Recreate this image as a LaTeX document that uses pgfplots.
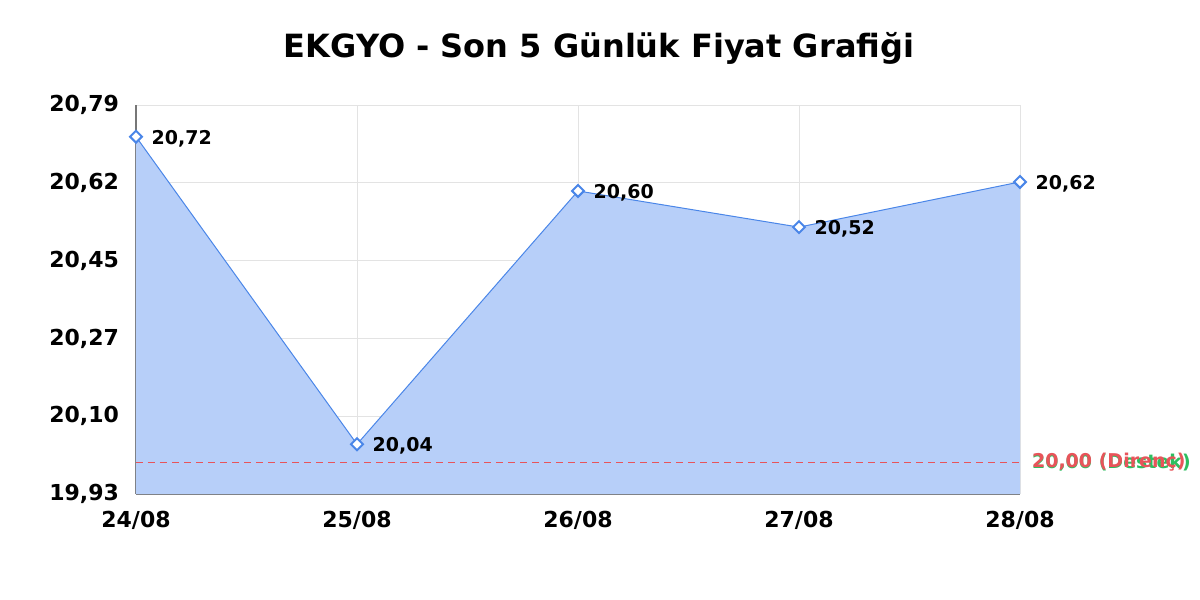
\documentclass[border=0pt]{standalone}
\usepackage{fontspec}
\setmainfont{DejaVu Sans}
\usepackage{pgfplots}
\pgfplotsset{compat=1.18}

\definecolor{lineblue}{HTML}{4A86E8}
\definecolor{fillblue}{HTML}{B7CFF9}
\definecolor{resred}{HTML}{E8545A}
\definecolor{supgreen}{HTML}{2DBE60}
\definecolor{gridgray}{HTML}{E3E3E3}
\definecolor{axisgray}{HTML}{777777}

\begin{document}
\begin{tikzpicture}[x=0.5pt,y=0.5pt]
% 1200x600 px page, 1px = 0.5pt, origin at the axis' lower left corner
\useasboundingbox (-136,-106) rectangle (1064,494);
\node[font=\bfseries\fontsize{16}{18}\selectfont] at (463,446) {EKGYO - Son 5 Günlük Fiyat Grafiği};
\begin{axis}[
    at={(0,0)}, anchor=south west,
    scale only axis,
    width=442pt, height=194.5pt,
    xmin=0, xmax=4,
    ymin=19.93, ymax=20.79,
    xtick={0,1,2,3,4},
    xticklabels={24/08,25/08,26/08,27/08,28/08},
    ytick={19.93,20.102,20.274,20.446,20.618,20.79},
    yticklabels={{19,93},{20,10},{20,27},{20,45},{20,62},{20,79}},
    tick label style={font=\bfseries\fontsize{11}{13}\selectfont},
    xticklabel style={yshift=-5pt},
    yticklabel style={xshift=-5pt},
    major tick length=0pt,
    grid=major,
    grid style={gridgray, line width=0.5pt},
    axis x line*=bottom,
    axis y line*=left,
    axis line style={axisgray, line width=0.6pt, -},
    clip=false,
]
    % price series, filled to the bottom
    \addplot[draw=none, fill=fillblue, forget plot] coordinates {
        (0,20.72) (1,20.04) (2,20.60) (3,20.52) (4,20.62)
    } \closedcycle;

    % support / resistance
    \addplot[supgreen, line width=0.8pt, dash pattern=on 3.5pt off 2.5pt] coordinates {(0,20.00) (4,20.00)};
    \addplot[resred, line width=0.8pt, dash pattern=on 3.5pt off 2.5pt] coordinates {(0,20.00) (4,20.00)};

    \addplot[
        lineblue, line width=0.5pt,
        mark=square*, mark size=2.1pt,
        mark options={fill=white, draw=lineblue, line width=1pt, rotate=45},
        nodes near coords={\pgfmathprintnumber[fixed, fixed zerofill, precision=2, use comma, assume math mode=true]{\pgfplotspointmeta}},
        nodes near coords align={anchor=west},
        every node near coord/.append style={font=\bfseries\fontsize{9.5}{11}\selectfont, black, xshift=4pt, yshift=-1pt},
        point meta=explicit,
    ] table[meta=y] {
        x y
        0 20.72
        1 20.04
        2 20.60
        3 20.52
        4 20.62
    };

    \node[anchor=west, text=supgreen, font=\bfseries\fontsize{9.5}{12}\selectfont, xshift=2.5pt] at (axis cs:4,20.00) {20,00 (Destek)};
    \node[anchor=west, text=resred, font=\bfseries\fontsize{9.5}{12}\selectfont, xshift=2.5pt] at (axis cs:4,20.00) {20,00 (Direnç)};
\end{axis}
\end{tikzpicture}
\end{document}
